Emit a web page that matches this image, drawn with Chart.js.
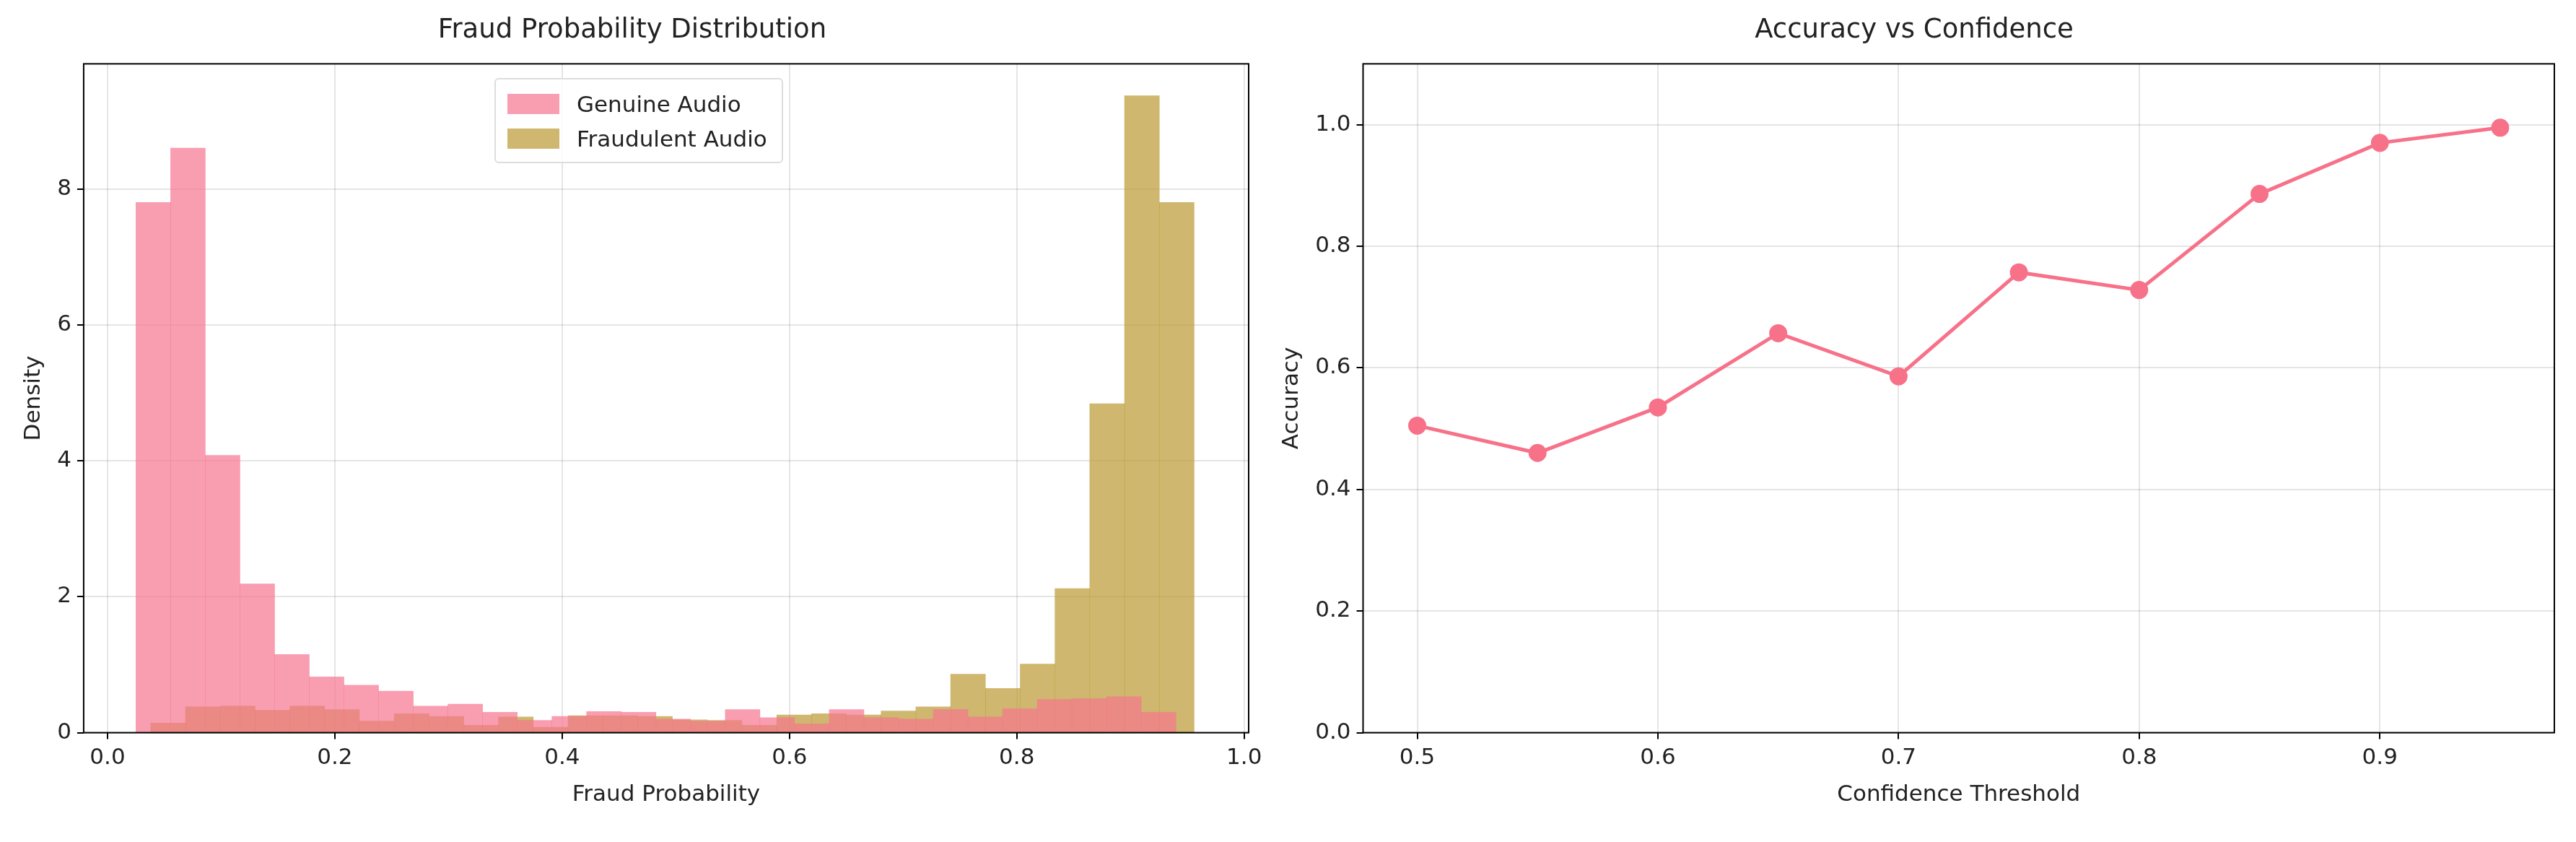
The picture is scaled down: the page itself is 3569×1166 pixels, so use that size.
<!DOCTYPE html>
<html>
<head>
<meta charset="utf-8">
<script src="https://cdn.jsdelivr.net/npm/chart.js@4"></script>
<style>
  body { margin: 0; background: #fff; width: 3569px; height: 1166px; overflow: hidden; position: relative; font-family: "DejaVu Sans", sans-serif; }
  .box { position: absolute; top: 0; height: 1166px; }
  #legend { position: absolute; left: 685px; top: 108px; border: 2px solid #ddd; border-radius: 6px; background: rgba(255,255,255,0.85); padding: 10px 20px 8px 16px; font-size: 31px; color: #222; }
  #legend div { display: flex; align-items: center; height: 48px; }
  #legend span { display: inline-block; width: 72px; height: 28px; margin-right: 24px; }
</style>
</head>
<body>
<div class="box" style="left:0;width:1785px"><canvas id="histChart"></canvas></div>
<div class="box" style="left:1745px;width:1824px"><canvas id="accChart"></canvas></div>
<div id="legend">
  <div><span style="background:rgba(247,117,143,0.7)"></span>Genuine Audio</div>
  <div><span style="background:rgba(187,152,50,0.7)"></span>Fraudulent Audio</div>
</div>
<script>
// histogram bin starts and widths
const genuineStart = 0.025, genuineWidth = 0.0305;
const fraudStart = 0.038, fraudWidth = 0.0306;
const genuineDensity = [7.8, 8.6, 4.08, 2.19, 1.15, 0.82, 0.7, 0.61, 0.39, 0.42, 0.3, 0.18, 0.24, 0.31, 0.3, 0.2, 0.17, 0.34, 0.22, 0.13, 0.34, 0.22, 0.2, 0.34, 0.23, 0.35, 0.49, 0.5, 0.53, 0.3];
const fraudDensity = [0.14, 0.38, 0.39, 0.33, 0.39, 0.34, 0.17, 0.28, 0.24, 0.11, 0.23, 0.08, 0.25, 0.25, 0.24, 0.19, 0.18, 0.11, 0.26, 0.28, 0.26, 0.32, 0.38, 0.86, 0.65, 1.01, 2.12, 4.84, 9.37, 7.8];

const thresholds = [0.5, 0.55, 0.6, 0.65, 0.7, 0.75, 0.8, 0.85, 0.9, 0.95];
const accuracy = [0.505, 0.46, 0.535, 0.657, 0.586, 0.757, 0.728, 0.886, 0.97, 0.995];

const histTicks = [0, 0.2, 0.4, 0.6, 0.8, 1.0];
const accTicksX = [0.5, 0.6, 0.7, 0.8, 0.9];

Chart.defaults.font.family = '"DejaVu Sans", sans-serif';
Chart.defaults.color = '#222';
Chart.defaults.animation = false;
Chart.defaults.devicePixelRatio = 1;

function centers(start, width, vals) {
    return vals.map((v, i) => ({ x: start + width * (i + 0.5), y: v }));
}

// draw the full box around the plot area, like matplotlib
const frame = {
    id: 'frame',
    afterDraw(chart) {
        const a = chart.chartArea, ctx = chart.ctx;
        ctx.save();
        ctx.strokeStyle = '#000';
        ctx.lineWidth = 2;
        ctx.strokeRect(a.left, a.top, a.right - a.left, a.bottom - a.top);
        ctx.restore();
    }
};

function axis(min, max, title, ticks, fmt) {
    return {
        type: 'linear', min: min, max: max, offset: false,
        afterBuildTicks: s => { if (ticks) s.ticks = ticks.map(v => ({ value: v })); },
        ticks: { font: { size: 31 }, padding: 8, callback: fmt },
        grid: { color: 'rgba(0,0,0,0.1)', lineWidth: 2, tickColor: '#000', tickLength: 9, offset: false },
        border: { display: false },
        title: { display: true, text: title, font: { size: 31 }, padding: 6 }
    };
}

// second x axis so each histogram gets its own bin width
const histX2 = Object.assign(axis(-0.021, 1.004, '', histTicks, v => v), { display: false });

new Chart(document.getElementById('histChart'), {
    type: 'bar',
    data: {
        datasets: [
            { label: 'Genuine Audio', data: centers(genuineStart, genuineWidth, genuineDensity), backgroundColor: 'rgba(247,117,143,0.7)', barPercentage: 1, categoryPercentage: 1, grouped: false, xAxisID: 'x' },
            { label: 'Fraudulent Audio', data: centers(fraudStart, fraudWidth, fraudDensity), backgroundColor: 'rgba(187,152,50,0.7)', barPercentage: 1, categoryPercentage: 1, grouped: false, xAxisID: 'x2' }
        ]
    },
    options: {
        responsive: true, maintainAspectRatio: false,
        layout: { padding: { left: 22, right: 55, top: 10, bottom: 40 } },
        plugins: {
            legend: { display: false },
            title: { display: true, text: 'Fraud Probability Distribution', font: { size: 37, weight: 'normal' }, padding: { top: 10, bottom: 24 } }
        },
        scales: {
            x: axis(-0.021, 1.004, 'Fraud Probability', histTicks, v => v.toFixed(1)),
            x2: histX2,
            y: axis(0, 9.84, 'Density', [0, 2, 4, 6, 8], v => v)
        }
    },
    plugins: [frame]
});

new Chart(document.getElementById('accChart'), {
    type: 'line',
    data: {
        datasets: [{
            data: thresholds.map((t, i) => ({ x: t, y: accuracy[i] })),
            borderColor: '#f77189', backgroundColor: '#f77189',
            borderWidth: 5, pointRadius: 10, pointHoverRadius: 10
        }]
    },
    options: {
        responsive: true, maintainAspectRatio: false,
        layout: { padding: { left: 20, right: 30, top: 10, bottom: 40 } },
        plugins: {
            legend: { display: false },
            title: { display: true, text: 'Accuracy vs Confidence', font: { size: 37, weight: 'normal' }, padding: { top: 10, bottom: 24 } }
        },
        scales: {
            x: axis(0.4775, 0.9725, 'Confidence Threshold', accTicksX, v => v.toFixed(1)),
            y: axis(0, 1.1, 'Accuracy', [0, 0.2, 0.4, 0.6, 0.8, 1.0], v => v.toFixed(1))
        }
    },
    plugins: [frame]
});
</script>
</body>
</html>
